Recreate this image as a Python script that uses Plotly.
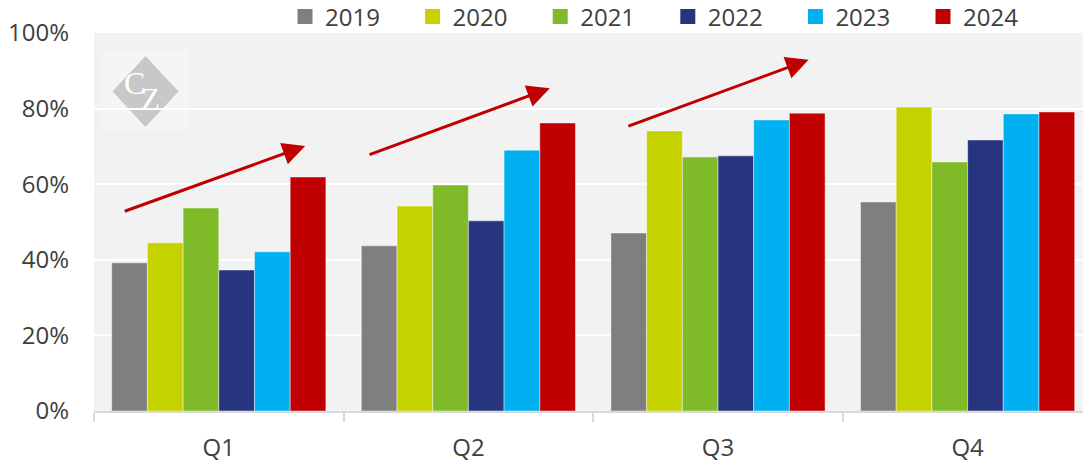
import plotly.graph_objects as go

quarters = ["Q1", "Q2", "Q3", "Q4"]
years = ["2019", "2020", "2021", "2022", "2023", "2024"]
v2019 = [39.2, 43.7, 47.1, 55.3]
v2020 = [44.5, 54.2, 74.1, 80.4]
v2021 = [53.7, 59.8, 67.2, 65.9]
v2022 = [37.3, 50.3, 67.5, 71.7]
v2023 = [42.1, 69.0, 77.0, 78.6]
v2024 = [61.9, 76.2, 78.8, 79.1]
colors = ["#7f7f7f", "#c5d200", "#7fba28", "#27357e", "#00b0f0", "#c00000"]
tick_vals = [0, 20, 40, 60, 80, 100]
tick_text = ["0%", "20%", "40%", "60%", "80%", "100%"]

# trend arrows: start/end in category index / percent
arrow_x0 = [-0.383, 0.598, 1.635]
arrow_y0 = [52.7, 67.7, 75.2]
arrow_x1 = [0.346, 1.326, 2.363]
arrow_y1 = [70.1, 85.4, 92.9]

series = [v2019, v2020, v2021, v2022, v2023, v2024]

W, H = 1083, 463
L, R, T, B = 94, 0, 33, 52
pw, ph = W - L - R, H - T - B
CAT = 249.6  # pixels per category in the reference (last one is cut by the edge)
x_hi = -0.5 + pw / CAT

def px(x):  # pixel -> domain fraction
    return (x - L) / pw

def py(y):
    return (H - B - y) / ph

fig = go.Figure()
for name, vals, col in zip(years, series, colors):
    fig.add_trace(go.Bar(x=quarters, y=vals, name=name, marker_color=col,
                         marker_line=dict(color="rgba(255,255,255,0.45)", width=1),
                         showlegend=False))
for name, col in zip(years, colors):
    fig.add_trace(go.Scatter(x=[None], y=[None], mode="markers", name=name,
                             marker=dict(symbol="square", size=15, color=col)))

for x0, y0, x1, y1 in zip(arrow_x0, arrow_y0, arrow_x1, arrow_y1):
    fig.add_annotation(x=x1, y=y1, ax=x0, ay=y0, xref="x", yref="y",
                       axref="x", ayref="y", text="", showarrow=True,
                       arrowhead=2, arrowsize=1.5, arrowwidth=3,
                       arrowcolor="#c00000")

# logo watermark
fig.add_shape(type="rect", xref="x domain", yref="y domain",
              x0=px(102), x1=px(188), y0=py(130), y1=py(50),
              fillcolor="#f5f5f5", line_width=0, layer="below")
cx, cy, hw, hh = 145.5, 91.5, 33, 35.5
path = "M {},{} L {},{} L {},{} L {},{} Z".format(
    px(cx), py(cy - hh), px(cx + hw), py(cy), px(cx), py(cy + hh), px(cx - hw), py(cy))
fig.add_shape(type="path", xref="x domain", yref="y domain", path=path,
              fillcolor="#c8c8c8", line_width=0, layer="below")
fig.add_annotation(x=px(134.5), y=py(83), xref="paper", yref="paper", text="C",
                   showarrow=False, borderpad=0, xanchor="center", yanchor="middle",
                   font=dict(family="Liberation Serif", size=32, color="white"))
fig.add_annotation(x=px(150), y=py(99), xref="paper", yref="paper", text="Z",
                   showarrow=False, borderpad=0, xanchor="center", yanchor="middle",
                   font=dict(family="Liberation Serif", size=31, color="white"))

fig.update_layout(
    width=W, height=H,
    margin=dict(l=L, r=R, t=T, b=B, autoexpand=False),
    paper_bgcolor="white", plot_bgcolor="#f2f2f2",
    font=dict(family="Open Sans", size=24, color="#404040"),
    barmode="group", bargap=0.142, bargroupgap=0,
    legend=dict(orientation="h", x=px(285), xanchor="left", y=py(17), yanchor="middle",
                entrywidth=82.6, entrywidthmode="pixels", itemsizing="trace",
                font=dict(size=24, color="#404040"), bgcolor="rgba(0,0,0,0)",
                tracegroupgap=0),
    xaxis=dict(showgrid=False, showline=True, linecolor="#d9d9d9", linewidth=2,
               ticks="outside", tickson="boundaries", ticklen=9, tickcolor="#d9d9d9",
               tickwidth=2, range=[-0.5, x_hi], automargin=False, ticklabelstandoff=14),
    yaxis=dict(range=[0, 100], tickvals=tick_vals, ticktext=tick_text,
               showgrid=True, gridcolor="white", gridwidth=2, zeroline=False,
               ticklabelstandoff=24, automargin=False),
)
fig.write_html("out.html", config={"displayModeBar": False},
               post_script="document.body.style.margin='0';")
